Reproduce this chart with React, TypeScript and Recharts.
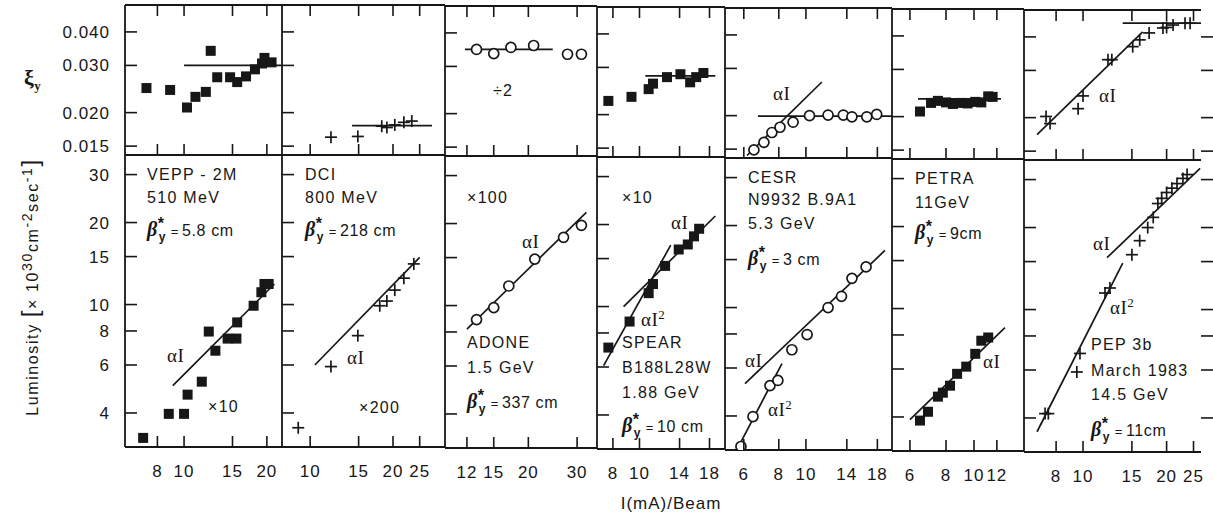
import { ComposedChart, Scatter, XAxis, YAxis } from 'recharts';

type P = [number, number];

const INK = '#171717';
const SANS = '"Liberation Sans", Arial, sans-serif';
const SERIF = '"Liberation Serif", "Times New Roman", serif';

// shared y axes
const xiTicks = [0.015, 0.02, 0.03, 0.04];
const lumTicks = [4, 6, 8, 10, 15, 20, 30];
const xiDomain: P = [0.0139, 0.0504];
const lumDomain: P = [3.0, 35.4];

// x ticks per machine (I in mA per beam)
const veppTicks = [8, 10, 15, 20];
const dciTicks = [10, 15, 20, 25];
const adoneTicks = [12, 15, 20, 30];
const spearTicks = [8, 10, 14, 18];
const cesrTicks = [6, 8, 10, 14, 18];
const petraTicks = [6, 8, 10, 12];
const pepTicks = [8, 10, 15, 20, 25];

// VEPP-2M
const veppXi: P[] = [[7.3, 0.0247], [8.9, 0.0243], [10.25, 0.0209], [11.0, 0.0229], [12.0, 0.0239], [12.5, 0.034], [13.2, 0.0271], [14.7, 0.0271], [15.6, 0.026], [16.8, 0.0273], [18.1, 0.029], [19.2, 0.0305], [19.6, 0.032], [20.8, 0.0308]];
const veppXiLine: P[] = [[10.0, 0.03], [22.7, 0.03]];
const veppLum: P[] = [[7.1, 3.24], [8.8, 3.97], [10, 3.97], [10.3, 4.67], [11.6, 5.21], [12.3, 7.96], [13.0, 6.77], [14.4, 7.5], [15.5, 7.5], [15.6, 8.6], [17.9, 9.9], [19.1, 11.1], [19.6, 11.9], [20.3, 11.9]];
const veppFitI: P[] = [[9.1, 5.04], [21.3, 11.9]];

// DCI
const dciXi: P[] = [[11.9, 0.0162], [14.9, 0.0163], [18.2, 0.0178], [19.0, 0.0176], [20.3, 0.018], [21.9, 0.0184], [23.4, 0.0186]];
const dciXiLine: P[] = [[14.2, 0.0179], [27.7, 0.0179]];
const dciLum: P[] = [[9.05, 3.53], [11.9, 5.92], [14.9, 7.69], [17.9, 9.9], [19.0, 10.3], [20.3, 11.3], [21.9, 12.5], [23.8, 14.1]];
const dciFitI: P[] = [[10.4, 6.0], [25.0, 14.9]];

// ADONE
const adoneXi: P[] = [[13.0, 0.0347], [15.0, 0.0335], [17.3, 0.0353], [20.9, 0.0359], [27.7, 0.0333], [31.1, 0.0333]];
const adoneXiLine: P[] = [[11.8, 0.0347], [24.5, 0.0347]];
const adoneLum: P[] = [[13.0, 8.88], [15.0, 9.83], [17.0, 11.8], [21.1, 14.8], [26.8, 17.8], [31.1, 19.7]];
const adoneFitI: P[] = [[12.0, 8.2], [32.4, 22.0]];

// SPEAR
const spearXi: P[] = [[7.7, 0.0225], [9.35, 0.0233], [10.8, 0.0249], [11.2, 0.0261], [12.6, 0.0276], [14.1, 0.0283], [15.3, 0.0264], [16.1, 0.0276], [17.1, 0.0286]];
const spearXiLine: P[] = [[10.5, 0.0279], [18.9, 0.0279]];
const spearLum: P[] = [[7.7, 7.07], [9.2, 8.81], [10.8, 11.2], [11.2, 12.1], [12.4, 14.1], [13.9, 16.2], [15.0, 16.9], [15.8, 18.1], [16.5, 19.3]];
const spearFitI: P[] = [[8.75, 10.0], [18.9, 21.5]];
const spearFitI2: P[] = [[7.4, 6.07], [13.0, 16.8]];

// CESR
const cesrXi: P[] = [[6.52, 0.0149], [7.08, 0.0159], [7.56, 0.0173], [8.08, 0.0181], [9.0, 0.0189], [10.3, 0.02], [12.0, 0.0201], [13.6, 0.0201], [14.6, 0.0198], [16.5, 0.0198], [17.9, 0.0202]];
const cesrXiLine: P[] = [[6.74, 0.0199], [20.3, 0.0199]];
const cesrXiFit: P[] = [[6.16, 0.0142], [11.4, 0.0267]];
const cesrLum: P[] = [[5.86, 3.09], [6.47, 3.98], [7.44, 5.17], [7.94, 5.4], [8.91, 7.0], [10.1, 7.96], [12.0, 10.0], [13.4, 11.0], [14.6, 12.8], [16.4, 14.1]];
const cesrFitI: P[] = [[6.06, 5.26], [19.15, 16.2]];
const cesrFitI2: P[] = [[5.72, 3.06], [8.21, 6.23]];

// PETRA
const petraXi: P[] = [[6.5, 0.0209], [7.1, 0.0225], [7.5, 0.0229], [8.0, 0.0226], [8.45, 0.0223], [9.0, 0.0225], [9.5, 0.0224], [10.1, 0.0227], [10.6, 0.0226], [11.2, 0.0238], [11.6, 0.0237]];
const petraXiLine: P[] = [[6.4, 0.0233], [12.4, 0.0233]];
const petraLum: P[] = [[6.5, 3.88], [6.93, 4.18], [7.5, 4.75], [7.8, 4.91], [8.26, 5.21], [8.74, 5.76], [9.4, 6.12], [10.1, 6.82], [10.6, 7.62], [11.2, 7.83]];
const petraFitI: P[] = [[6.0, 3.91], [12.8, 8.51]];

// PEP 3b
const pepXi: P[] = [[7.36, 0.0202], [7.61, 0.019], [9.6, 0.0216], [10.0, 0.0241], [12.3, 0.0329], [12.7, 0.0329], [15.1, 0.0368], [16.0, 0.039], [17.3, 0.0414], [19.4, 0.0432], [20.0, 0.0434], [21.1, 0.0443], [23.3, 0.045], [24.3, 0.045]];
const pepXiLine: P[] = [[13.9, 0.045], [26.6, 0.045]];
const pepXiFit: P[] = [[6.83, 0.0173], [16.4, 0.0418]];
const pepLum: P[] = [[7.3, 4.15], [7.5, 4.15], [9.5, 5.9], [9.75, 6.9], [12.0, 11.5], [12.5, 12.0], [15.0, 15.9], [16.0, 17.9], [17.1, 20.0], [17.9, 21.8], [18.6, 24.5], [19.2, 25.6], [20.0, 26.9], [20.9, 27.9], [21.8, 29.0], [22.9, 30.3], [23.7, 31.3]];
const pepFitI: P[] = [[12.2, 15.5], [26.4, 33.0]];
const pepFitI2: P[] = [[6.83, 3.56], [13.9, 14.8]];

type Marker = 'square' | 'circle' | 'cross';

interface Col {
  left: number;
  right: number;
  dy: number;
  domain: P;
  ticks: number[];
  marker: Marker;
  xi: P[];
  xiLines: P[][];
  lum: P[];
  lumLines: P[][];
}

const cols: Col[] = [
  { left: 125, right: 282, dy: 0, domain: [6.1, 22.7], ticks: veppTicks, marker: 'square', xi: veppXi, xiLines: [veppXiLine], lum: veppLum, lumLines: [veppFitI] },
  { left: 282, right: 445, dy: 0, domain: [7.9, 30.9], ticks: dciTicks, marker: 'cross', xi: dciXi, xiLines: [dciXiLine], lum: dciLum, lumLines: [dciFitI] },
  { left: 445, right: 597, dy: 1, domain: [10.0, 35.4], ticks: adoneTicks, marker: 'circle', xi: adoneXi, xiLines: [adoneXiLine], lum: adoneLum, lumLines: [adoneFitI] },
  { left: 597, right: 725, dy: 2, domain: [7.0, 20.5], ticks: spearTicks, marker: 'square', xi: spearXi, xiLines: [spearXiLine], lum: spearLum, lumLines: [spearFitI, spearFitI2] },
  { left: 725, right: 892, dy: 3, domain: [5.14, 20.3], ticks: cesrTicks, marker: 'circle', xi: cesrXi, xiLines: [cesrXiLine, cesrXiFit], lum: cesrLum, lumLines: [cesrFitI, cesrFitI2] },
  { left: 892, right: 1024, dy: 4, domain: [5.2, 14.9], ticks: petraTicks, marker: 'square', xi: petraXi, xiLines: [petraXiLine], lum: petraLum, lumLines: [petraFitI] },
  { left: 1024, right: 1201, dy: 5, domain: [6.13, 26.6], ticks: pepTicks, marker: 'cross', xi: pepXi, xiLines: [pepXiLine, pepXiFit], lum: pepLum, lumLines: [pepFitI, pepFitI2] },
];

const toPts = (a: P[]) => a.map(([x, y]) => ({ x, y }));

const shapes: Record<Marker, (p: any) => any> = {
  square: (p) => <rect x={p.cx - 5} y={p.cy - 5} width={10} height={10} fill={INK} />,
  circle: (p) => <circle cx={p.cx} cy={p.cy} r={5} fill="#fff" stroke={INK} strokeWidth={1.7} />,
  cross: (p) => (
    <g stroke={INK} strokeWidth={1.7}>
      <line x1={p.cx - 6} x2={p.cx + 6} y1={p.cy} y2={p.cy} />
      <line x1={p.cx} x2={p.cx} y1={p.cy - 6} y2={p.cy + 6} />
    </g>
  ),
};
const blank = () => <g />;

const axisLine = { stroke: INK, strokeWidth: 1.8 };

const xTick = (dir: number, label: boolean) => (p: any) => (
  <g>
    <line x1={p.x} x2={p.x} y1={p.y} y2={p.y + dir * 11} stroke={INK} strokeWidth={1.6} />
    {label && (
      <text x={p.x} y={p.y + 30} textAnchor="middle" fontFamily={SANS} fontSize={17} letterSpacing={1} fill={INK}>
        {p.payload.value}
      </text>
    )}
  </g>
);

const yTick = (dir: number, label: boolean, fmt: (v: number) => string) => (p: any) => (
  <g>
    <line x1={p.x} x2={p.x + dir * 12} y1={p.y} y2={p.y} stroke={INK} strokeWidth={1.6} />
    {label && (
      <text x={p.x - 15} y={p.y + 6} textAnchor="end" fontFamily={SANS} fontSize={17} letterSpacing={1} fill={INK}>
        {fmt(p.payload.value)}
      </text>
    )}
  </g>
);

const PAD = 80;

function Panel({ col, row, first, last }: { col: Col; row: 'xi' | 'lum'; first: boolean; last: boolean }) {
  const isXi = row === 'xi';
  const top = (isXi ? 5 : 155) + col.dy;
  const h = isXi ? 150 : 292;
  const w = col.right - col.left;
  const yDomain = isXi ? xiDomain : lumDomain;
  const yTicks = isXi ? xiTicks : lumTicks;
  const fmt = isXi ? (v: number) => v.toFixed(3) : (v: number) => String(v);
  const pts = isXi ? col.xi : col.lum;
  const lines = isXi ? col.xiLines : col.lumLines;
  // every axis takes 1px of room, so the margins give that pixel back
  const margin = { top: PAD - (isXi ? 1 : 0), right: PAD - (last ? 1 : 0), bottom: PAD - 1, left: PAD - 1 };
  return (
    <div style={{ position: 'absolute', left: col.left - PAD, top: top - PAD }}>
      <ComposedChart width={w + 2 * PAD} height={h + 2 * PAD} margin={margin}>
        <XAxis xAxisId="b" type="number" dataKey="x" scale="log" domain={col.domain} allowDataOverflow ticks={col.ticks} interval={0}
          height={1} tickSize={0} tickMargin={0} tickLine={false} axisLine={axisLine} tick={xTick(-1, !isXi)} />
        {isXi && (
          <XAxis xAxisId="t" orientation="top" type="number" dataKey="x" scale="log" domain={col.domain} allowDataOverflow ticks={col.ticks}
            interval={0} height={1} tickSize={0} tickMargin={0} tickLine={false} axisLine={axisLine} tick={xTick(1, false)} />
        )}
        <YAxis yAxisId="l" type="number" dataKey="y" scale="log" domain={yDomain} allowDataOverflow ticks={yTicks} interval={0}
          width={1} tickSize={0} tickMargin={0} tickLine={false} axisLine={axisLine} tick={yTick(1, first, fmt)} />
        {last && (
          <YAxis yAxisId="r" orientation="right" type="number" dataKey="y" scale="log" domain={yDomain} allowDataOverflow ticks={yTicks}
            interval={0} width={1} tickSize={0} tickMargin={0} tickLine={false} axisLine={{ stroke: 'none' }} tick={yTick(1, false, fmt)} />
        )}
        {lines.map((l, i) => (
          <Scatter key={'l' + i} xAxisId="b" yAxisId="l" data={toPts(l)} line={{ stroke: INK, strokeWidth: 1.7 }} shape={blank} isAnimationActive={false} />
        ))}
        <Scatter xAxisId="b" yAxisId="l" data={toPts(pts)} shape={shapes[col.marker]} isAnimationActive={false} />
      </ComposedChart>
    </div>
  );
}

function Note({ x, y, size = 16, serif = false, children }: { x: number; y: number; size?: number; serif?: boolean; children: any }) {
  return (
    <div style={{ position: 'absolute', left: x, top: y - size * 0.5, fontSize: size, lineHeight: 1, fontFamily: serif ? SERIF : SANS,
      letterSpacing: serif ? 0.5 : 1.3, whiteSpace: 'nowrap', color: INK }}>
      {children}
    </div>
  );
}

function Beta({ v }: { v: string }) {
  return (
    <span style={{ letterSpacing: 0.6 }}>
      <span style={{ fontFamily: SERIF, fontStyle: 'italic', fontWeight: 'bold', fontSize: 20 }}>β</span>
      <span style={{ display: 'inline-block', position: 'relative', width: 10, height: 10 }}>
        <span style={{ position: 'absolute', left: 0, top: -10, fontSize: 16, fontWeight: 'bold' }}>*</span>
        <span style={{ position: 'absolute', left: 1, top: 5, fontSize: 12, fontWeight: 'bold' }}>y</span>
      </span>
      <span style={{ fontSize: 13, margin: '0 3px' }}>=</span>
      {v}
    </span>
  );
}

const aI = <span>αI</span>;
const aI2 = <span>αI<sup style={{ fontSize: 13 }}>2</sup></span>;

export default function App() {
  return (
    <div style={{ position: 'absolute', left: 0, top: 0, width: 1213, height: 513, overflow: 'hidden', background: '#fff', fontFamily: SANS, color: INK }}>
      {cols.map((c, i) => (
        <div key={i}>
          <Panel col={c} row="xi" first={i === 0} last={i === cols.length - 1} />
          <Panel col={c} row="lum" first={i === 0} last={i === cols.length - 1} />
        </div>
      ))}

      <Note x={24} y={78} size={22} serif>
        <span style={{ fontWeight: 'bold' }}>ξ</span><sub style={{ fontSize: 13, fontWeight: 'bold' }}>y</sub>
      </Note>
      <div style={{ position: 'absolute', left: 30, top: 287, transform: 'translate(-50%, -50%) rotate(-90deg)', whiteSpace: 'nowrap',
        fontSize: 16, letterSpacing: 1.6, fontFamily: SANS }}>
        Luminosity <span style={{ fontSize: 24 }}>[</span>× 10<sup style={{ fontSize: 14 }}>30</sup>cm<sup style={{ fontSize: 14 }}>-2</sup>sec<sup style={{ fontSize: 14 }}>-1</sup><span style={{ fontSize: 24 }}>]</span>
      </div>
      <div style={{ position: 'absolute', left: 671, top: 494, transform: 'translateX(-50%)', fontSize: 17, letterSpacing: 1, whiteSpace: 'nowrap' }}>
        I(mA)/Beam
      </div>

      {/* VEPP-2M */}
      <Note x={147} y={175}>VEPP - 2M</Note>
      <Note x={147} y={198}>510 MeV</Note>
      <Note x={147} y={227}><Beta v="5.8 cm" /></Note>
      <Note x={167} y={355} size={19} serif>{aI}</Note>
      <Note x={208} y={407}>×10</Note>

      {/* DCI */}
      <Note x={305} y={175}>DCI</Note>
      <Note x={305} y={198}>800 MeV</Note>
      <Note x={305} y={227}><Beta v="218 cm" /></Note>
      <Note x={347} y={357} size={19} serif>{aI}</Note>
      <Note x={359} y={408}>×200</Note>

      {/* ADONE */}
      <Note x={493} y={91}>÷2</Note>
      <Note x={467} y={198}>×100</Note>
      <Note x={522} y={241} size={19} serif>{aI}</Note>
      <Note x={467} y={343}>ADONE</Note>
      <Note x={467} y={368}>1.5 GeV</Note>
      <Note x={467} y={399}><Beta v="337 cm" /></Note>

      {/* SPEAR */}
      <Note x={622} y={198}>×10</Note>
      <Note x={671} y={222} size={19} serif>{aI}</Note>
      <Note x={641} y={317} size={19} serif>{aI2}</Note>
      <Note x={622} y={343}>SPEAR</Note>
      <Note x={622} y={368}>B188L28W</Note>
      <Note x={622} y={393}>1.88 GeV</Note>
      <Note x={622} y={423}><Beta v="10 cm" /></Note>

      {/* CESR */}
      <Note x={773} y={93} size={19} serif>{aI}</Note>
      <Note x={748} y={178}>CESR</Note>
      <Note x={748} y={200}>N9932 B.9A1</Note>
      <Note x={748} y={224}>5.3 GeV</Note>
      <Note x={748} y={256}><Beta v="3 cm" /></Note>
      <Note x={745} y={360} size={19} serif>{aI}</Note>
      <Note x={768} y={407} size={19} serif>{aI2}</Note>

      {/* PETRA */}
      <Note x={915} y={179}>PETRA</Note>
      <Note x={915} y={203}>11GeV</Note>
      <Note x={915} y={230}><Beta v="9cm" /></Note>
      <Note x={983} y={361} size={19} serif>{aI}</Note>

      {/* PEP */}
      <Note x={1099} y={95} size={19} serif>{aI}</Note>
      <Note x={1093} y={243} size={19} serif>{aI}</Note>
      <Note x={1110} y={305} size={19} serif>{aI2}</Note>
      <Note x={1091} y={345}>PEP 3b</Note>
      <Note x={1091} y={371}>March 1983</Note>
      <Note x={1091} y={395}>14.5 GeV</Note>
      <Note x={1091} y={427}><Beta v="11cm" /></Note>
    </div>
  );
}
